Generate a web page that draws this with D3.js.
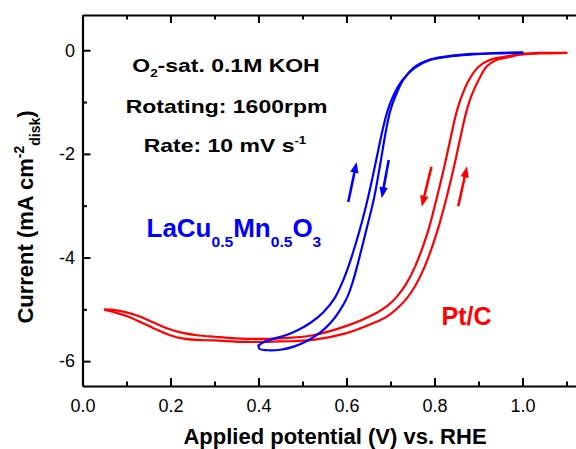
<!DOCTYPE html>
<html><head><meta charset="utf-8">
<script src="https://cdn.jsdelivr.net/npm/d3@7"></script>
<style>body{margin:0;background:#fff}svg{display:block}text{font-family:"Liberation Sans",Arial,Helvetica,sans-serif}</style>
</head><body><svg id="c" width="576" height="449"></svg>
<script>
// ---- tick data ----
const xTicks = [0, 0.2, 0.4, 0.6, 0.8, 1.0];
const xTickLabels = ["0.0", "0.2", "0.4", "0.6", "0.8", "1.0"];
const xMinor = [0.1, 0.3, 0.5, 0.7, 0.9, 1.1];
const yTicks = [0, -2, -4, -6];
const yTickLabels = ["0", "-2", "-4", "-6"];
const yMinor = [-1, -3, -5];

// ---- Pt/C (red) loop: inner branch (0.05 -> 1.1) and outer branch (1.1 -> 0.05) ----
const ptInnerX = [0.051, 0.07, 0.10, 0.13, 0.16, 0.19, 0.22, 0.26, 0.30, 0.373, 0.449, 0.524, 0.60, 0.668, 0.692, 0.714, 0.735, 0.755, 0.784, 0.804, 0.822, 0.839, 0.850, 0.860, 0.878, 0.900, 0.925, 0.955, 1.0, 1.05, 1.10];
const ptInnerY = [-5.00, -5.01, -5.06, -5.14, -5.25, -5.36, -5.44, -5.50, -5.53, -5.57, -5.56, -5.50, -5.32, -5.07, -4.94, -4.76, -4.52, -4.19, -3.53, -2.89, -2.26, -1.60, -1.20, -0.93, -0.58, -0.32, -0.19, -0.13, -0.08, -0.06, -0.05];
const ptOuterX = [1.10, 1.05, 1.0, 0.970, 0.940, 0.918, 0.900, 0.883, 0.872, 0.861, 0.844, 0.826, 0.805, 0.777, 0.756, 0.737, 0.718, 0.690, 0.668, 0.60, 0.524, 0.449, 0.373, 0.30, 0.26, 0.22, 0.19, 0.16, 0.13, 0.10, 0.07, 0.051];
const ptOuterY = [-0.05, -0.05, -0.07, -0.13, -0.19, -0.32, -0.58, -0.90, -1.20, -1.60, -2.26, -2.89, -3.53, -4.19, -4.55, -4.79, -4.96, -5.15, -5.24, -5.46, -5.59, -5.62, -5.63, -5.60, -5.59, -5.55, -5.47, -5.36, -5.24, -5.13, -5.05, -5.01];

// ---- LaCu0.5Mn0.5O3 (blue) loop ----
const lcInnerX = [0.400, 0.410, 0.430, 0.462, 0.490, 0.520, 0.548, 0.572, 0.592, 0.607, 0.630, 0.649, 0.666, 0.682, 0.694, 0.708, 0.727, 0.755, 0.790, 0.835, 0.887, 0.950, 1.000];
const lcInnerY = [-5.70, -5.64, -5.58, -5.50, -5.40, -5.25, -5.05, -4.80, -4.45, -4.11, -3.47, -2.84, -2.18, -1.54, -1.15, -0.85, -0.58, -0.34, -0.19, -0.12, -0.08, -0.06, -0.05];
const lcOuterX = [1.000, 0.950, 0.887, 0.835, 0.790, 0.755, 0.730, 0.713, 0.700, 0.690, 0.677, 0.663, 0.645, 0.626, 0.615, 0.602, 0.585, 0.565, 0.540, 0.510, 0.480, 0.450, 0.420, 0.402, 0.400];
const lcOuterY = [-0.04, -0.05, -0.07, -0.11, -0.18, -0.32, -0.56, -0.85, -1.15, -1.54, -2.18, -2.84, -3.47, -4.11, -4.45, -4.76, -5.02, -5.25, -5.45, -5.61, -5.72, -5.78, -5.79, -5.76, -5.70];

// ---- scan-direction arrows (tail -> tip), in data units ----
const arrowX1 = [0.604, 0.696, 0.793, 0.854];
const arrowY1 = [-2.93, -2.12, -2.25, -3.01];
const arrowX2 = [0.623, 0.680, 0.771, 0.874];
const arrowY2 = [-2.155, -2.855, -3.02, -2.24];
const arrowColor = ["#0000ff", "#0000ff", "#ff0000", "#ff0000"];

// ---- layout ----
const svg = d3.select("#c");
const mLeft = 82.5, mTop = 15, mBottom = 386, mRight = 588.5;
const x = d3.scaleLinear().domain([0, 1.15]).range([mLeft, mRight]);
const y = d3.scaleLinear().domain([-6.48, 0.68]).range([mBottom, mTop]);

function styleAxis(g) {
  g.selectAll("path.domain").attr("stroke", "#000").attr("stroke-width", 2.2);
  g.selectAll(".tick line").attr("stroke", "#000").attr("stroke-width", 2);
  g.selectAll(".tick text").attr("fill", "#000").style("font-size", "18px")
    .style("font-family", '"Liberation Sans", Arial, sans-serif');
}

// bottom axis
const gxB = svg.append("g").attr("transform", `translate(0,${mBottom})`)
  .call(d3.axisBottom(x).tickValues(xTicks).tickFormat((d, i) => xTickLabels[i]).tickSize(-8).tickSizeOuter(0).tickPadding(13));
styleAxis(gxB);
const gxBm = svg.append("g").attr("transform", `translate(0,${mBottom})`)
  .call(d3.axisBottom(x).tickValues(xMinor).tickFormat("").tickSize(-4.5).tickSizeOuter(0));
styleAxis(gxBm); gxBm.select("path.domain").remove();

// top axis
const gxT = svg.append("g").attr("transform", `translate(0,${mTop})`)
  .call(d3.axisTop(x).tickValues(xTicks).tickFormat("").tickSize(-8).tickSizeOuter(0));
styleAxis(gxT);
const gxTm = svg.append("g").attr("transform", `translate(0,${mTop})`)
  .call(d3.axisTop(x).tickValues(xMinor).tickFormat("").tickSize(-4.5).tickSizeOuter(0));
styleAxis(gxTm); gxTm.select("path.domain").remove();

// left axis
const gy = svg.append("g").attr("transform", `translate(${mLeft},0)`)
  .call(d3.axisLeft(y).tickValues(yTicks).tickFormat((d, i) => yTickLabels[i]).tickSize(-8).tickSizeOuter(0).tickPadding(7.5));
styleAxis(gy);
const gym = svg.append("g").attr("transform", `translate(${mLeft},0)`)
  .call(d3.axisLeft(y).tickValues(yMinor).tickFormat("").tickSize(-4.5).tickSizeOuter(0));
styleAxis(gym); gym.select("path.domain").remove();

// ---- curves ----
const line = d3.line().x(d => x(d[0])).y(d => y(d[1])).curve(d3.curveCatmullRom.alpha(0.5));
function pts(xs, ys) { return xs.map((v, i) => [v, ys[i]]); }
const series = [
  { xs: ptInnerX, ys: ptInnerY, c: "#ff0000" },
  { xs: ptOuterX, ys: ptOuterY, c: "#ff0000" },
  { xs: lcInnerX, ys: lcInnerY, c: "#0000ff" },
  { xs: lcOuterX, ys: lcOuterY, c: "#0000ff" }
];
svg.append("g").selectAll("path").data(series).join("path")
  .attr("d", s => line(pts(s.xs, s.ys)))
  .attr("fill", "none").attr("stroke", s => s.c).attr("stroke-width", 2.2)
  .attr("stroke-linejoin", "round").attr("stroke-linecap", "round");

// ---- arrows ----
const ag = svg.append("g");
arrowX1.forEach((v, i) => {
  const x1 = x(v), y1 = y(arrowY1[i]), x2 = x(arrowX2[i]), y2 = y(arrowY2[i]);
  const dx = x2 - x1, dy = y2 - y1, L = Math.hypot(dx, dy);
  const ux = dx / L, uy = dy / L, hl = 11, hw = 4.2;
  const bx = x2 - ux * hl, by = y2 - uy * hl;
  ag.append("line").attr("x1", x1).attr("y1", y1).attr("x2", bx + ux).attr("y2", by + uy)
    .attr("stroke", arrowColor[i]).attr("stroke-width", 2.6);
  ag.append("path")
    .attr("d", `M${x2},${y2}L${bx - uy * hw},${by + ux * hw}L${bx + uy * hw},${by - ux * hw}Z`)
    .attr("fill", arrowColor[i]);
});

// ---- annotations (horizontally widened bold text, as in the original) ----
const t1 = svg.append("text").attr("transform", "translate(226,72) scale(1.21,1)").attr("text-anchor", "middle")
  .style("font-size", "19px").style("font-weight", "bold");
t1.append("tspan").text("O");
t1.append("tspan").attr("dy", 5).style("font-size", "11px").text("2");
t1.append("tspan").attr("dy", -5).text("-sat. 0.1M KOH");

svg.append("text").attr("transform", "translate(226.5,112.5) scale(1.21,1)").attr("text-anchor", "middle")
  .style("font-size", "19px").style("font-weight", "bold").text("Rotating: 1600rpm");

const t3 = svg.append("text").attr("transform", "translate(225,152) scale(1.21,1)").attr("text-anchor", "middle")
  .style("font-size", "19px").style("font-weight", "bold");
t3.append("tspan").text("Rate: 10 mV s");
t3.append("tspan").attr("dy", -8).style("font-size", "11px").text("-1");

const tb = svg.append("text").attr("transform", "translate(146.5,236.5) scale(1.04,1)")
  .style("font-size", "25px").style("font-weight", "bold").attr("fill", "#0000ff");
tb.append("tspan").text("LaCu");
tb.append("tspan").attr("dy", 10).style("font-size", "15px").text("0.5");
tb.append("tspan").attr("dy", -10).text("Mn");
tb.append("tspan").attr("dy", 10).style("font-size", "15px").text("0.5");
tb.append("tspan").attr("dy", -10).text("O");
tb.append("tspan").attr("dy", 10).style("font-size", "15px").text("3");

svg.append("text").attr("x", 441.5).attr("y", 325)
  .style("font-size", "25px").style("font-weight", "bold").attr("fill", "#ff0000").text("Pt/C");

// axis titles
svg.append("text").attr("x", 335).attr("y", 444).attr("text-anchor", "middle")
  .style("font-size", "22px").style("font-weight", "bold").text("Applied potential (V) vs. RHE");

const ty = svg.append("text").attr("transform", "translate(33,217) rotate(-90)").attr("text-anchor", "middle")
  .style("font-size", "22px").style("font-weight", "bold");
ty.append("tspan").text("Current (mA cm");
ty.append("tspan").attr("dy", -9).style("font-size", "14px").text("-2");
ty.append("tspan").attr("dy", 16).style("font-size", "14px").text("disk");
ty.append("tspan").attr("dy", -7).text(")");
</script></body></html>
